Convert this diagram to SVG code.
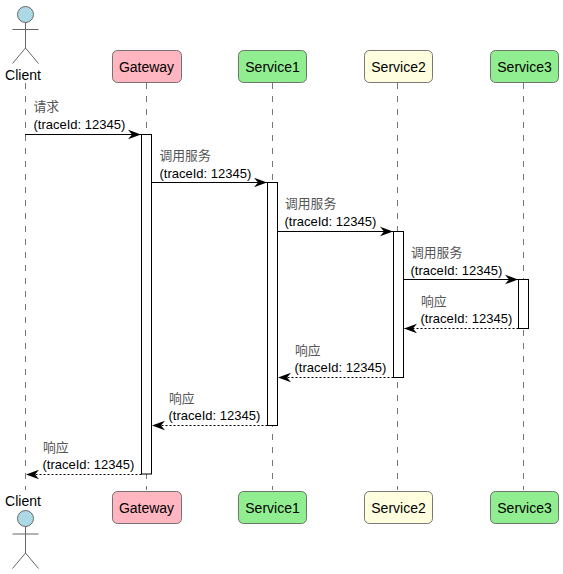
<svg xmlns="http://www.w3.org/2000/svg" width="563" height="574" viewBox="0 0 563 574">
<style>
text{font-family:"Liberation Sans","Noto Sans CJK SC",sans-serif;fill:#000}
.n{font-size:14px;text-anchor:middle}
.m{font-size:13px}
.c{font-size:12.8px;fill:#555}
.box{stroke:#555;stroke-width:.8}
.life{stroke:#777;stroke-width:1;stroke-dasharray:6 7;fill:none}
.act{fill:#fff;stroke:#000;stroke-width:1}
.sol{stroke:#000;stroke-width:1;fill:none;marker-end:url(#a)}
.dash{stroke:#000;stroke-width:1;stroke-dasharray:2 2;fill:none;marker-end:url(#a)}
.actor{stroke:#666;fill:none;stroke-width:1}
.head{fill:#ADD8E6;stroke:#666;stroke-width:1}
</style>
<defs>
<marker id="a" markerUnits="userSpaceOnUse" markerWidth="15" markerHeight="12" refX="13" refY="6" orient="auto">
<path d="M0 1.200L13 6L0 10.800L4 6Z" fill="#000"/>
</marker>
</defs>
<rect width="563" height="574" fill="#fff"/>
<g id="lifelines">
<path class="life" d="M25.500 83V490"/>
<path class="life" d="M146.500 83V490"/>
<path class="life" d="M272.500 83V490"/>
<path class="life" d="M397.500 83V490"/>
<path class="life" d="M523.500 83V490"/>
</g>
<g id="activations">
<rect class="act" x="141.500" y="134.500" width="10" height="339.500"/>
<rect class="act" x="267.500" y="182.500" width="10" height="243"/>
<rect class="act" x="393.500" y="231.500" width="10" height="146"/>
<rect class="act" x="518.500" y="279.500" width="10" height="49"/>
</g>
<g id="connectors">
<path class="sol" d="M25 134.500H141"/>
<path class="sol" d="M151.500 182.500H267"/>
<path class="sol" d="M277.500 231.500H393"/>
<path class="sol" d="M403.500 279.500H518"/>
<path class="dash" d="M518.500 328.500H404"/>
<path class="dash" d="M393.500 377.500H278"/>
<path class="dash" d="M267.500 425.500H152"/>
<path class="dash" d="M141.500 474.500H26"/>
</g>
<g id="labels">
<text class="c" x="33.500" y="111">请求</text><text class="m" x="33.500" y="129">(traceId: 12345)</text>
<text class="c" x="159.500" y="160">调用服务</text><text class="m" x="159.500" y="178">(traceId: 12345)</text>
<text class="c" x="285" y="208">调用服务</text><text class="m" x="284.500" y="226">(traceId: 12345)</text>
<text class="c" x="411" y="257">调用服务</text><text class="m" x="410.500" y="275">(traceId: 12345)</text>
<text class="c" x="421" y="306">响应</text><text class="m" x="420.500" y="323">(traceId: 12345)</text>
<text class="c" x="295" y="355">响应</text><text class="m" x="294.500" y="372">(traceId: 12345)</text>
<text class="c" x="169" y="403">响应</text><text class="m" x="168.500" y="420">(traceId: 12345)</text>
<text class="c" x="43" y="452">响应</text><text class="m" x="42.500" y="469">(traceId: 12345)</text>
</g>
<g id="client-top">
<circle class="head" cx="25.500" cy="14.500" r="8"/>
<path class="actor" d="M25.500 22.500V48M12.500 29.500H38.500M25.500 48L12.500 63.500M25.500 48L38.500 63.500"/>
<text class="n" x="23" y="80">Client</text>
</g>
<g id="gateway-top"><rect class="box" x="112.500" y="50.500" width="69" height="32" rx="5" fill="#FFB6C1"/><text class="n" x="146.500" y="72">Gateway</text></g>
<g id="service1-top"><rect class="box" x="238.500" y="50.500" width="68" height="32" rx="5" fill="#90EE90"/><text class="n" x="272.500" y="72">Service1</text></g>
<g id="service2-top"><rect class="box" x="364.500" y="50.500" width="68" height="32" rx="5" fill="#FFFFE0"/><text class="n" x="398.500" y="72">Service2</text></g>
<g id="service3-top"><rect class="box" x="490.500" y="50.500" width="68" height="32" rx="5" fill="#90EE90"/><text class="n" x="524.500" y="72">Service3</text></g>
<g id="client-bottom">
<text class="n" x="23" y="506">Client</text>
<circle class="head" cx="25.500" cy="518.500" r="8"/>
<path class="actor" d="M25.500 526.500V553M12.500 534H38.500M25.500 553L12.500 568.500M25.500 553L38.500 568.500"/>
</g>
<g id="gateway-bottom"><rect class="box" x="112.500" y="491.500" width="69" height="32" rx="5" fill="#FFB6C1"/><text class="n" x="146.500" y="513">Gateway</text></g>
<g id="service1-bottom"><rect class="box" x="238.500" y="491.500" width="68" height="32" rx="5" fill="#90EE90"/><text class="n" x="272.500" y="513">Service1</text></g>
<g id="service2-bottom"><rect class="box" x="364.500" y="491.500" width="68" height="32" rx="5" fill="#FFFFE0"/><text class="n" x="398.500" y="513">Service2</text></g>
<g id="service3-bottom"><rect class="box" x="490.500" y="491.500" width="68" height="32" rx="5" fill="#90EE90"/><text class="n" x="524.500" y="513">Service3</text></g>
</svg>
